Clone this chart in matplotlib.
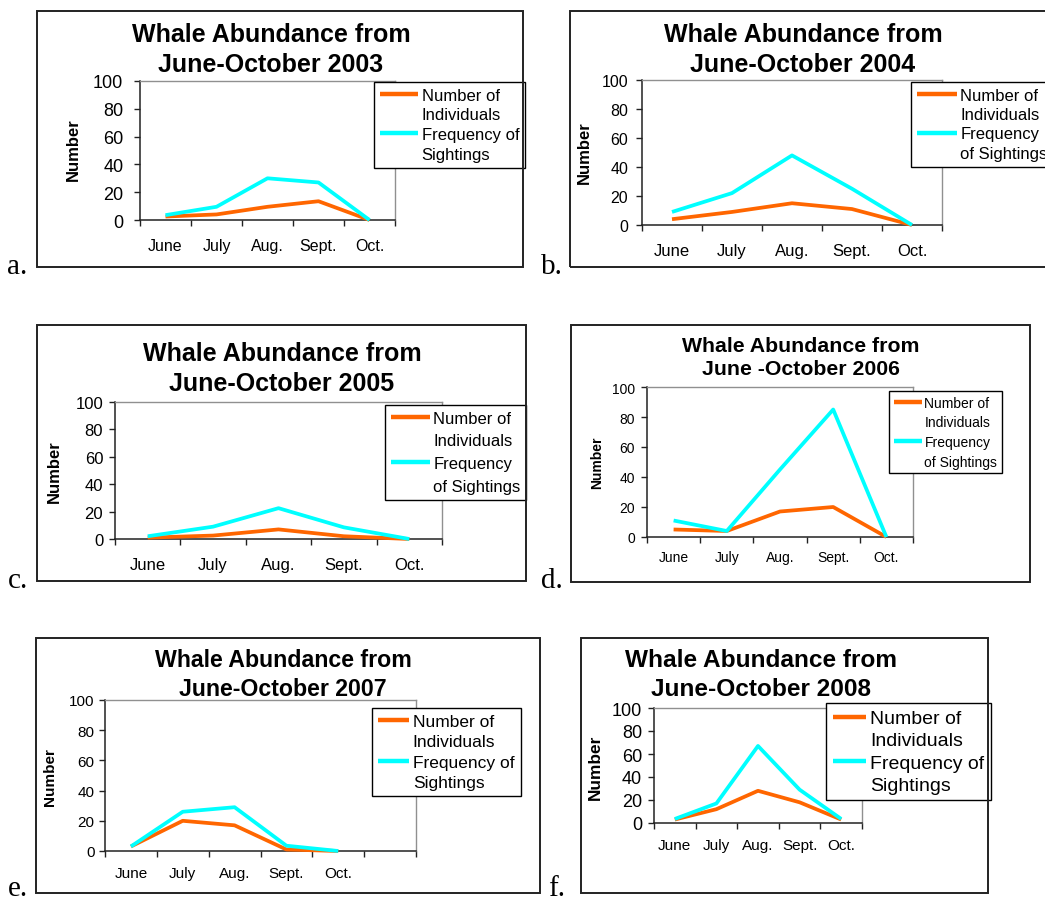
import numpy as np
import matplotlib
matplotlib.use("Agg")
import matplotlib.pyplot as plt
from matplotlib.patches import Rectangle
from matplotlib.lines import Line2D

plt.rcParams['font.family'] = ['Liberation Sans', 'DejaVu Sans']

# ---------------- data ----------------
months = ["June", "July", "Aug.", "Sept.", "Oct."]
months_2007 = ["June", "July", "Aug.", "Sept.", "Oct.", ""]

individuals_2003 = [2.5, 4, 9.5, 13.5, 0]
sightings_2003 = [3.5, 9.5, 30, 27, 0]
individuals_2004 = [4, 9, 15, 11, 0]
sightings_2004 = [9, 22, 48, 25, 0]
individuals_2005 = [1, 2.5, 7, 2, 0]
sightings_2005 = [2, 9, 22.5, 8.5, 0]
individuals_2006 = [5, 4, 17, 20, 0]
sightings_2006 = [11, 4, 45, 85, 0]
individuals_2007 = [3, 20, 17, 1, 0]
sightings_2007 = [3, 26, 29, 3.5, 0]
individuals_2008 = [3, 12, 28, 18, 3]
sightings_2008 = [3.5, 17, 67, 29, 3.5]

titles = ["Whale Abundance from\nJune-October 2003",
          "Whale Abundance from\nJune-October 2004",
          "Whale Abundance from\nJune-October 2005",
          "Whale Abundance from\nJune -October 2006",
          "Whale Abundance from\nJune-October 2007",
          "Whale Abundance from\nJune-October 2008"]
legend_short = ["Number of", "Individuals", "Frequency of", "Sightings"]
legend_wrap = ["Number of", "Individuals", "Frequency", "of Sightings"]
panel_labels = ["a.", "b.", "c.", "d.", "e.", "f."]
y_ticks = [0, 20, 40, 60, 80, 100]
y_label = "Number"

series = [(individuals_2003, sightings_2003, months),
          (individuals_2004, sightings_2004, months),
          (individuals_2005, sightings_2005, months),
          (individuals_2006, sightings_2006, months),
          (individuals_2007, sightings_2007, months_2007),
          (individuals_2008, sightings_2008, months)]
legend_texts = [legend_short, legend_wrap, legend_wrap, legend_wrap,
                legend_short, legend_short]

# ---------------- layout (pixels) ----------------
W, H = 1045, 903
layout = [
    dict(box=(37, 12, 523, 268), plot=(140, 82, 395, 221), title=(271, 50, 18),
         leg=(374, 83, 12, 2.3, 0.28), yt=(13, 8), xt=(11.5, 13), yl=(73, 150, 12),
         lab=(7, 274)),
    dict(box=(570, 12, 1100, 268), plot=(642, 81, 942, 226), title=(803, 50, 18),
         leg=(911, 83, 12, 2.4, 0.26), yt=(11.5, 6), xt=(12, 13), yl=(584, 153, 12),
         lab=(541, 274)),
    dict(box=(37, 326, 526, 582), plot=(115, 403, 442, 540), title=(282, 369, 18),
         leg=(385, 406, 12, 2.35, 0.46), yt=(12, 4.5), xt=(12, 13), yl=(54, 472, 12),
         lab=(8, 588)),
    dict(box=(571, 326, 1030, 583), plot=(647, 388, 913, 538), title=(801, 358, 15.3),
         leg=(889, 392, 10, 2.0, 0.4), yt=(10, 4.5), xt=(10, 9.5), yl=(597, 463, 10),
         lab=(541, 588)),
    dict(box=(36, 639, 540, 894), plot=(105, 701, 416, 852), title=(283, 675, 16.7),
         leg=(372, 709, 12.5, 1.8, 0.29), yt=(11, 3.6), xt=(11, 10.5), yl=(50, 777, 11),
         lab=(8, 896)),
    dict(box=(581, 639, 988, 894), plot=(654, 709, 862, 824), title=(761, 675, 17.6),
         leg=(826, 704, 14, 1.7, 0.23), yt=(13, 4.5), xt=(11, 11), yl=(595, 767, 12.4),
         lab=(548, 896)),
]

ORANGE = "#FF6600"
CYAN = "#00FFFF"

fig = plt.figure(figsize=(W / 100, H / 100), dpi=100)
fig.patch.set_facecolor("white")

for i, (lay, (ind, sig, cats)) in enumerate(zip(layout, series)):
    l, t, r, b = lay["plot"]
    ax = fig.add_axes([l / W, 1 - b / H, (r - l) / W, (b - t) / H])
    n = len(cats)
    x = np.arange(len(ind))
    l1, = ax.plot(x, ind, color=ORANGE, lw=2.7, clip_on=False, zorder=3,
                  solid_capstyle="butt", solid_joinstyle="round")
    l2, = ax.plot(x, sig, color=CYAN, lw=2.7, clip_on=False, zorder=4,
                  solid_capstyle="butt", solid_joinstyle="round")
    ax.set_xlim(-0.5, n - 0.5)
    ax.set_ylim(0, 100)
    ax.set_yticks(y_ticks)
    ax.set_xticks(np.arange(n + 1) - 0.5)
    ax.set_xticklabels([])
    ax.set_xticks(np.arange(n), minor=True)
    ax.set_xticklabels(cats, minor=True)
    ax.tick_params(axis="x", which="minor", length=0, pad=lay["xt"][1],
                   labelsize=lay["xt"][0], colors="black")
    ax.tick_params(axis="x", which="major", length=4, width=1, direction="out",
                   color="#222222")
    ax.tick_params(axis="y", length=4, width=1, direction="out", color="#222222",
                   pad=lay["yt"][1], labelsize=lay["yt"][0])
    for s in ("top", "right"):
        ax.spines[s].set_color("#909090")
        ax.spines[s].set_linewidth(1.0)
    for s in ("left", "bottom"):
        ax.spines[s].set_color("#222222")
        ax.spines[s].set_linewidth(1.1)

    yx, yy, yfs = lay["yl"]
    ax.set_ylabel(y_label, fontsize=yfs, fontweight="bold", va="center")
    ax.yaxis.set_label_coords(yx / W, 1 - yy / H, transform=fig.transFigure)

    lx, ly, lfs, hl, ls = lay["leg"]
    blank = Line2D([], [], color="none")
    leg = ax.legend([l1, blank, l2, blank], legend_texts[i],
                    loc="upper left", bbox_to_anchor=(lx / W, 1 - ly / H),
                    bbox_transform=fig.transFigure, borderaxespad=0,
                    fontsize=lfs, handlelength=hl, handletextpad=0.2,
                    borderpad=0.35, labelspacing=ls, frameon=True,
                    fancybox=False, framealpha=1, edgecolor="black")
    leg.get_frame().set_linewidth(1.0)
    for h in leg.legend_handles:
        h.set_linewidth(3.2)

    tx, ty, tfs = lay["title"]
    fig.text(tx / W, 1 - ty / H, titles[i], ha="center", va="center",
             fontsize=tfs, fontweight="bold", linespacing=1.33)

    bl, bt, br, bb = lay["box"]
    fig.add_artist(Rectangle((bl / W, 1 - bb / H), (br - bl) / W, (bb - bt) / H,
                             transform=fig.transFigure, fill=False,
                             edgecolor="#222222", linewidth=1.4))
    px, py = lay["lab"]
    fig.text(px / W, 1 - py / H, panel_labels[i], ha="left", va="baseline",
             fontsize=21, family=["Liberation Serif", "DejaVu Serif"])

fig.savefig("out.png", dpi=100, facecolor="white")
